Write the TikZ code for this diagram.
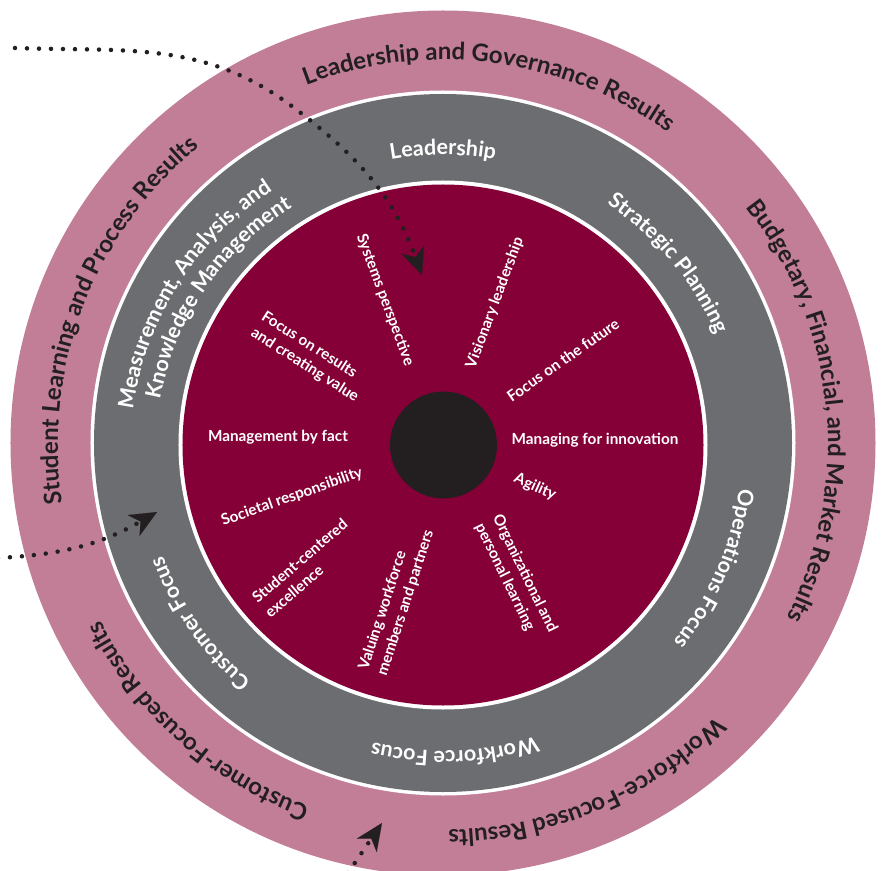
\documentclass[tikz,border=0pt]{standalone}
\usepackage{fontspec}
\setmainfont{Lato}
\usetikzlibrary{decorations.text,arrows.meta}
\definecolor{ringpink}{HTML}{C27E97}
\definecolor{ringgray}{HTML}{6C6D71}
\definecolor{crimson}{HTML}{850036}
\definecolor{ink}{HTML}{231F20}
\newcommand\outerfont{\fontsize{24}{28}\selectfont\bfseries}
\newcommand\grayfont{\fontsize{21.5}{25}\selectfont\bfseries}
\newcommand\innerfont{\fontsize{15.3}{19.5}\selectfont\bfseries}
\begin{document}
\begin{tikzpicture}[x=1pt,y=1pt,
  principle/.style={text=white, font=\innerfont, align=left, inner sep=0pt},
  dotarrow/.style={draw=ink, line width=4.5pt, line cap=round, dash pattern=on 0pt off 12pt,
    -{Stealth[length=27pt,width=24pt,inset=8pt,line width=0.1pt]}}]
\useasboundingbox (-443,-427) rectangle (440,443);
\fill[white] (-443,-427) rectangle (440,443);
% rings
\fill[ringpink] (0,0) circle[radius=432.5];
\fill[white] (0,0) circle[radius=352.5];
\fill[ringgray] (0,0) circle[radius=349];
\fill[white] (0,-2) circle[radius=264.5];
\fill[crimson] (0,-2) circle[radius=260.5];
\fill[ink] (0.5,-2) circle[radius=53.5];
% outer ring labels (baseline circle centre (0,-2), r=385)
\path[decorate,decoration={text along path,text align=center,text={|\outerfont\color{ink}|Leadership and Governance Results}}]
  ([shift={(0,-2)}]162.5:385) arc[start angle=162.5,end angle=2.5,radius=385];
\path[decorate,decoration={text along path,text align=center,text={|\outerfont\color{ink}|Budgetary, Financial, and Market Results}}]
  ([shift={(0,-2)}]85.7:385) arc[start angle=85.7,end angle=-74.3,radius=385];
\path[decorate,decoration={text along path,text align=center,text={|\outerfont\color{ink}|Workforce-Focused Results}}]
  ([shift={(0,-2)}]13:385) arc[start angle=13,end angle=-147,radius=385];
\path[decorate,decoration={text along path,text align=center,text={|\outerfont\color{ink}|Customer-Focused Results}}]
  ([shift={(0,-2)}]-51.6:385) arc[start angle=-51.6,end angle=-211.6,radius=385];
\path[decorate,decoration={text along path,text align=center,text={|\outerfont\color{ink}|Student Learning and Process Results}}]
  ([shift={(0,-2)}]239:385) arc[start angle=239,end angle=79,radius=385];
% gray ring labels (baseline circle centre (0,-10), r=298)
\path[decorate,decoration={text along path,text align=center,text={|\grayfont\color{white}|Leadership}}]
  ([shift={(0,-10)}]170:298) arc[start angle=170,end angle=10,radius=298];
\path[decorate,decoration={text along path,text align=center,text={|\grayfont\color{white}|Strategic Planning}}]
  ([shift={(0,-10)}]120:298) arc[start angle=120,end angle=-40,radius=298];
\path[decorate,decoration={text along path,text align=center,text={|\grayfont\color{white}|Operations Focus}}]
  ([shift={(0,-10)}]57:298) arc[start angle=57,end angle=-103,radius=298];
\path[decorate,decoration={text along path,text align=center,text={|\grayfont\color{white}|Workforce Focus}}]
  ([shift={(0,-10)}]-7.7:298) arc[start angle=-7.7,end angle=-167.7,radius=298];
\path[decorate,decoration={text along path,text align=center,text={|\grayfont\color{white}|Customer Focus}}]
  ([shift={(0,-10)}]-65:298) arc[start angle=-65,end angle=-225,radius=298];
\path[decorate,decoration={text along path,text align=center,text={|\grayfont\color{white}|Measurement, Analysis, and}}]
  ([shift={(0,-10)}]227.5:313) arc[start angle=227.5,end angle=67.5,radius=313];
\path[decorate,decoration={text along path,text align=center,text={|\grayfont\color{white}|Knowledge Management}}]
  ([shift={(0,-10)}]225.4:288) arc[start angle=225.4,end angle=65.4,radius=288];
% core values
\node[principle, rotate=-69.5] (sys) at (-58,143) {Systems perspective};
\node[principle, rotate=69.5] (vis) at (52,140) {Visionary leadership};
\node[principle, rotate=35] (fut) at (120,83) {Focus on the future};
\node[principle] (inn) at (152,3) {Managing for innovation};
\node[principle, rotate=-24] (agi) at (92,-44) {Agility};
\node[principle, rotate=-64] (org) at (73,-135) {Organizational and\\personal learning};
\node[principle, rotate=72] (val) at (-46.5,-157) {Valuing workforce\\members and partners};
\node[principle, rotate=40.5] (stu) at (-137,-125) {Student-centered\\excellence};
\node[principle, rotate=19.5] (soc) at (-151,-54) {Societal responsibility};
\node[principle] (fac) at (-165,6) {Management by fact};
\node[principle, rotate=-32.5] (res) at (-133,86) {Focus on results\\and creating value};
% dotted arrows
\coordinate (a1s) at (-428,395);
\coordinate (a1m) at (-150,336);
\coordinate (a1t) at (-21,168);
\draw[dotarrow] (a1s) to[out=-2,in=143] (a1m) to[out=-37,in=110] (a1t);
\coordinate (a2s) at (-445,-115);
\coordinate (a2t) at (-286,-69);
\draw[dotarrow] (a2s) to[out=3,in=-150] (a2t);
\coordinate (a3s) at (-95,-430);
\coordinate (a3t) at (-61,-380);
\draw[dotarrow] (a3s) -- (a3t);
\end{tikzpicture}
\end{document}
